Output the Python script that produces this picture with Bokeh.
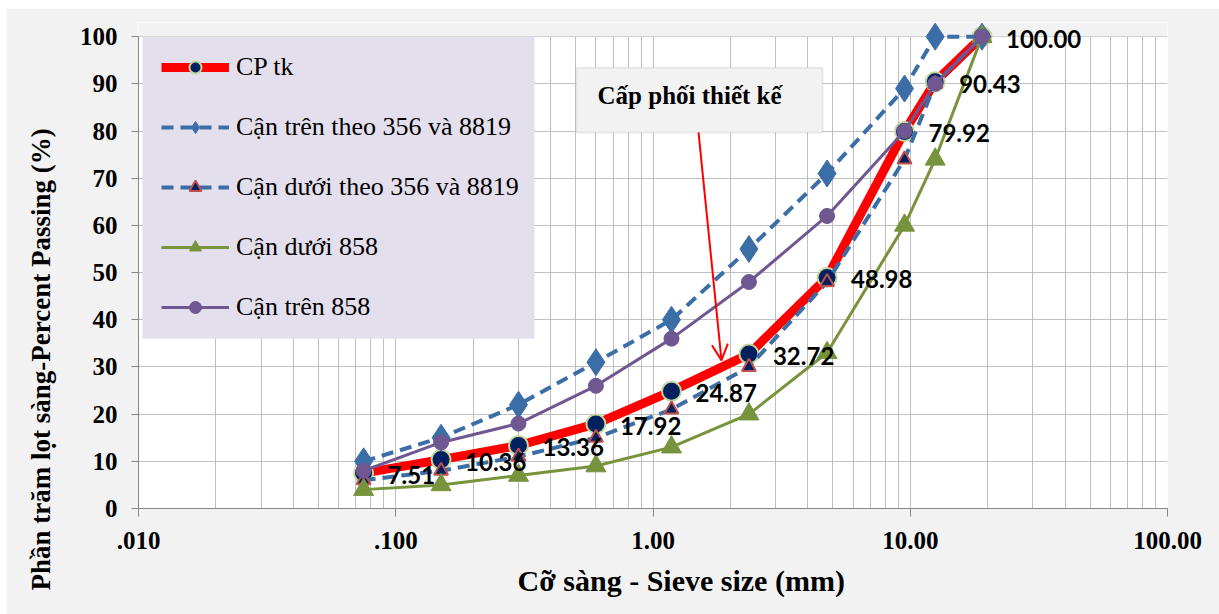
import math
from bokeh.plotting import figure
from bokeh.models import (Range1d, FixedTicker, SingleIntervalTicker, Legend, LegendItem,
                          Label, BoxAnnotation, Arrow, OpenHead, ColumnDataSource, Title)
from bokeh.embed import file_html
from bokeh.resources import INLINE
from bokeh.core.properties import value

# ---------------- data ----------------
sieve_mm = [0.075, 0.15, 0.3, 0.6, 1.18, 2.36, 4.75, 9.5, 12.5, 19.0]
cp_tk = [7.51, 10.36, 13.36, 17.92, 24.87, 32.72, 48.98, 79.92, 90.43, 100.0]
upper_8819 = [10, 15, 22, 31, 40, 55, 71, 89, 100, 100]
lower_8819 = [6, 8, 11, 15, 21, 30, 48, 74, 90, 100]
lower_858 = [4, 5, 7, 9, 13, 20, 33, 60, 74, 100]
upper_858 = [8, 14, 18, 26, 36, 48, 62, 80, 90, 100]

series_names = ["CP tk", "Cận trên theo 356 và 8819", "Cận dưới theo 356 và 8819",
                "Cận dưới 858", "Cận trên 858"]

x_ticks = [0.01, 0.1, 1.0, 10.0, 100.0]
x_tick_labels = [".010", ".100", "1.00", "10.00", "100.00"]
x_minor = [m * d for d in [0.01, 0.1, 1.0, 10.0] for m in range(2, 10)]

y_title = "Phần trăm lọt sàng-Percent Passing (%)"
x_title = "Cỡ sàng - Sieve size (mm)"
callout_text = "Cấp phối thiết kế"

SERIF = "'Liberation Serif', 'Times New Roman', serif"
Y_MAX = 100
Y_TOP = 103  # small headroom so markers at 100 are not cut

# ---------------- figure ----------------
p = figure(width=1213, height=606, x_axis_type="log",
           x_range=Range1d(0.01, 100), y_range=Range1d(0, Y_TOP),
           output_backend="svg", toolbar_location=None,
           min_border_left=132, min_border_right=52, min_border_top=14, min_border_bottom=106,
           background_fill_color="white", border_fill_color="#f2f2f2",
           outline_line_color=None, margin=(8, 0, 0, 6))

p.xaxis.ticker = FixedTicker(ticks=x_ticks, minor_ticks=x_minor)
p.xaxis.major_label_overrides = {t: l for t, l in zip(x_ticks, x_tick_labels)}
p.yaxis.ticker = SingleIntervalTicker(interval=10, num_minor_ticks=0)
p.yaxis.bounds = (0, Y_MAX)

for ax in (p.xaxis[0], p.yaxis[0]):
    ax.axis_line_color = "#868686"
    ax.major_tick_line_color = "#868686"
    ax.major_tick_in = 0
    ax.minor_tick_out = 0
    ax.minor_tick_in = 0
    ax.major_label_text_font = SERIF
    ax.major_label_text_font_style = "bold"
    ax.major_label_text_font_size = "25px"
    ax.major_label_text_color = "#000000"
p.xaxis.major_tick_out = 8
p.yaxis.major_tick_out = 7
p.xaxis.major_label_standoff = 15
p.yaxis.major_label_standoff = 14

p.xgrid.grid_line_color = "#bfbfbf"
p.xgrid.minor_grid_line_color = "#bfbfbf"
p.ygrid.grid_line_color = "#bfbfbf"

# hide the headroom above 100 (same grey as the chart area)
p.add_layout(BoxAnnotation(bottom=Y_MAX, fill_color="#f2f2f2", fill_alpha=1.0,
                           line_color=None, level="underlay"))
p.add_layout(BoxAnnotation(bottom=Y_MAX, top=Y_MAX, fill_alpha=0,
                           line_color="#bfbfbf", line_width=1, level="underlay"))
# legend background
p.add_layout(BoxAnnotation(left=0.010364, right=0.3462, bottom=36.0, top=100.0,
                           fill_color="#e4dfec", fill_alpha=1.0, line_color=None,
                           level="underlay"))

# ---------------- series ----------------
r_cp_l = p.line(sieve_mm, cp_tk, line_color="#ff0000", line_width=9)
r_cp_m = p.scatter(sieve_mm, cp_tk, marker="circle", size=19, fill_color="#002060",
                   line_color="#c3d69b", line_width=2)

r_u1_l = p.line(sieve_mm, upper_8819, line_color="#3b6ea6", line_width=4, line_dash="12 7")
r_u1_m = p.scatter(sieve_mm, upper_8819, marker="diamond", size=27,
                   fill_color="#3b6ea6", line_color="#3b6ea6")

r_l1_l = p.line(sieve_mm, lower_8819, line_color="#3b6ea6", line_width=4, line_dash="12 7")
r_l1_m = p.scatter(sieve_mm, lower_8819, marker="triangle", size=14, fill_color="#002060",
                   line_color="#c0504d", line_width=2)

r_l2_l = p.line(sieve_mm, lower_858, line_color="#77933c", line_width=3)
r_l2_m = p.scatter(sieve_mm, lower_858, marker="triangle", size=20, fill_color="#77933c",
                   line_color="#77933c")

r_u2_l = p.line(sieve_mm, upper_858, line_color="#6f5792", line_width=3)
r_u2_m = p.scatter(sieve_mm, upper_858, marker="circle", size=15, fill_color="#6f5792",
                   line_color="#6f5792")

# data labels for CP tk
lbl_src = ColumnDataSource(dict(x=sieve_mm, y=cp_tk, t=["%.2f" % v for v in cp_tk]))
p.text(x="x", y="y", text="t", source=lbl_src, x_offset=24, y_offset=2,
       text_align="left", text_baseline="middle", text_font=value("Lato"),
       text_font_style="bold", text_font_size="24px", text_color="#000000")

# ---------------- legend ----------------
legend = Legend(items=[
    LegendItem(label=series_names[0], renderers=[r_cp_l, r_cp_m]),
    LegendItem(label=series_names[1], renderers=[r_u1_l, r_u1_m]),
    LegendItem(label=series_names[2], renderers=[r_l1_l, r_l1_m]),
    LegendItem(label=series_names[3], renderers=[r_l2_l, r_l2_m]),
    LegendItem(label=series_names[4], renderers=[r_u2_l, r_u2_m]),
], location=(23, 186), margin=0, padding=0, spacing=30,
    glyph_width=68, glyph_height=30, label_height=30, label_standoff=7,
    label_text_font=SERIF, label_text_font_size="26px", label_text_color="#000000",
    background_fill_alpha=0.0, border_line_color=None)
p.add_layout(legend)

# ---------------- callout ----------------
p.add_layout(BoxAnnotation(left=0.504, right=4.56, bottom=79.7, top=93.4,
                           fill_color="#f2f2f2", fill_alpha=1.0,
                           line_color="#bfbfbf", line_width=2))
p.add_layout(Label(x=1.387, y=87.5, text=callout_text, text_align="center",
                   text_baseline="middle", text_font=SERIF, text_font_style="bold",
                   text_font_size="25px", text_color="#000000"))
p.add_layout(Arrow(x_start=1.503, y_start=79.7, x_end=1.846, y_end=31.4,
                   line_color="#ff0000", line_width=2,
                   end=OpenHead(size=16, line_color="#ff0000", line_width=2)))

# ---------------- axis titles ----------------
p.add_layout(Title(text=y_title, align="left", offset=-82, vertical_align="top",
                   standoff=37, text_font=SERIF, text_font_style="bold",
                   text_font_size="27px", text_color="#000000"), "left")
p.add_layout(Title(text=x_title, align="left", offset=379, vertical_align="bottom",
                   standoff=20, text_font=SERIF, text_font_style="bold",
                   text_font_size="30px", text_color="#000000"), "below")

open("out.html", "w").write(file_html(p, INLINE))
